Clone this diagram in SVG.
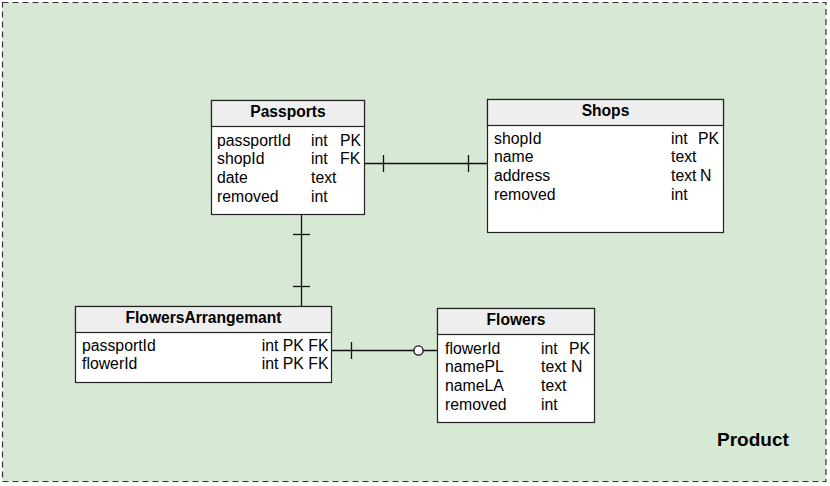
<svg xmlns="http://www.w3.org/2000/svg" width="830" height="486" viewBox="0 0 830 486">
<style>
.frame{fill:#d7e9d4;stroke:#333333;stroke-width:1.2;stroke-dasharray:6 4}
.box{fill:#ffffff;stroke:#222222;stroke-width:1.2}
.head{fill:#eeeeee;stroke:#222222;stroke-width:1.2}
.t{font-family:"Liberation Sans",Arial,sans-serif;font-size:15.8px;fill:#000000}
.h{font-family:"Liberation Sans",Arial,sans-serif;font-size:15.6px;font-weight:bold;fill:#000000;text-anchor:middle}
.lbl{font-family:"Liberation Sans",Arial,sans-serif;font-size:19px;font-weight:bold;fill:#000000}
.ln{stroke:#111111;stroke-width:1.3;fill:none}
.circ{stroke:#111111;stroke-width:1.3;fill:#ffffff}
</style>
<g id="product">
<rect class="frame" x="2.5" y="2.5" width="823.5" height="479"/>
<text class="lbl" x="717" y="446">Product</text>
</g>
<g id="connectors">
<line class="ln" x1="364.5" y1="163.5" x2="487.5" y2="163.5"/>
<line class="ln" x1="383.5" y1="155" x2="383.5" y2="172"/>
<line class="ln" x1="468.5" y1="155" x2="468.5" y2="172"/>
<line class="ln" x1="301.5" y1="214.5" x2="301.5" y2="306.5"/>
<line class="ln" x1="293" y1="234.5" x2="310" y2="234.5"/>
<line class="ln" x1="293" y1="286.5" x2="310" y2="286.5"/>
<line class="ln" x1="331.5" y1="350.5" x2="437.5" y2="350.5"/>
<line class="ln" x1="351.5" y1="342" x2="351.5" y2="359"/>
<circle class="circ" cx="418.5" cy="350.5" r="4.6"/>
</g>
<g id="passports">
<rect class="box" x="211.5" y="100.5" width="153" height="114"/>
<rect class="head" x="211.5" y="100.5" width="153" height="26"/>
<text class="h" x="288" y="116.5">Passports</text>
<text class="t" x="217" y="145.5">passportId</text>
<text class="t" x="217" y="164.2">shopId</text>
<text class="t" x="217" y="182.9">date</text>
<text class="t" x="217" y="201.6">removed</text>
<text class="t" x="311" y="145.5">int</text>
<text class="t" x="311" y="164.2">int</text>
<text class="t" x="311" y="182.9">text</text>
<text class="t" x="311" y="201.6">int</text>
<text class="t" x="340" y="145.5">PK</text>
<text class="t" x="340" y="164.2">FK</text>
</g>
<g id="shops">
<rect class="box" x="487.5" y="99.5" width="236" height="133"/>
<rect class="head" x="487.5" y="99.5" width="236" height="26"/>
<text class="h" x="605.5" y="115.5">Shops</text>
<text class="t" x="494" y="143.5">shopId</text>
<text class="t" x="494" y="162.2">name</text>
<text class="t" x="494" y="180.9">address</text>
<text class="t" x="494" y="199.6">removed</text>
<text class="t" x="671" y="143.5">int</text>
<text class="t" x="671" y="162.2">text</text>
<text class="t" x="671" y="180.9">text</text>
<text class="t" x="671" y="199.6">int</text>
<text class="t" x="698" y="143.5">PK</text>
<text class="t" x="700" y="180.9">N</text>
</g>
<g id="flowersArrangemant">
<rect class="box" x="75.5" y="306.5" width="256" height="76"/>
<rect class="head" x="75.5" y="306.5" width="256" height="26"/>
<text class="h" x="203.5" y="322.8">FlowersArrangemant</text>
<text class="t" x="82" y="350.5">passportId</text>
<text class="t" x="82" y="369.2">flowerId</text>
<text class="t" x="328.5" y="350.5" text-anchor="end">int PK FK</text>
<text class="t" x="328.5" y="369.2" text-anchor="end">int PK FK</text>
</g>
<g id="flowers">
<rect class="box" x="437.5" y="308.5" width="157" height="114"/>
<rect class="head" x="437.5" y="308.5" width="157" height="26"/>
<text class="h" x="516" y="325">Flowers</text>
<text class="t" x="445" y="353.5">flowerId</text>
<text class="t" x="445" y="372.2">namePL</text>
<text class="t" x="445" y="390.9">nameLA</text>
<text class="t" x="445" y="409.6">removed</text>
<text class="t" x="541" y="353.5">int</text>
<text class="t" x="541" y="372.2">text</text>
<text class="t" x="541" y="390.9">text</text>
<text class="t" x="541" y="409.6">int</text>
<text class="t" x="569" y="353.5">PK</text>
<text class="t" x="571" y="372.2">N</text>
</g>
</svg>
